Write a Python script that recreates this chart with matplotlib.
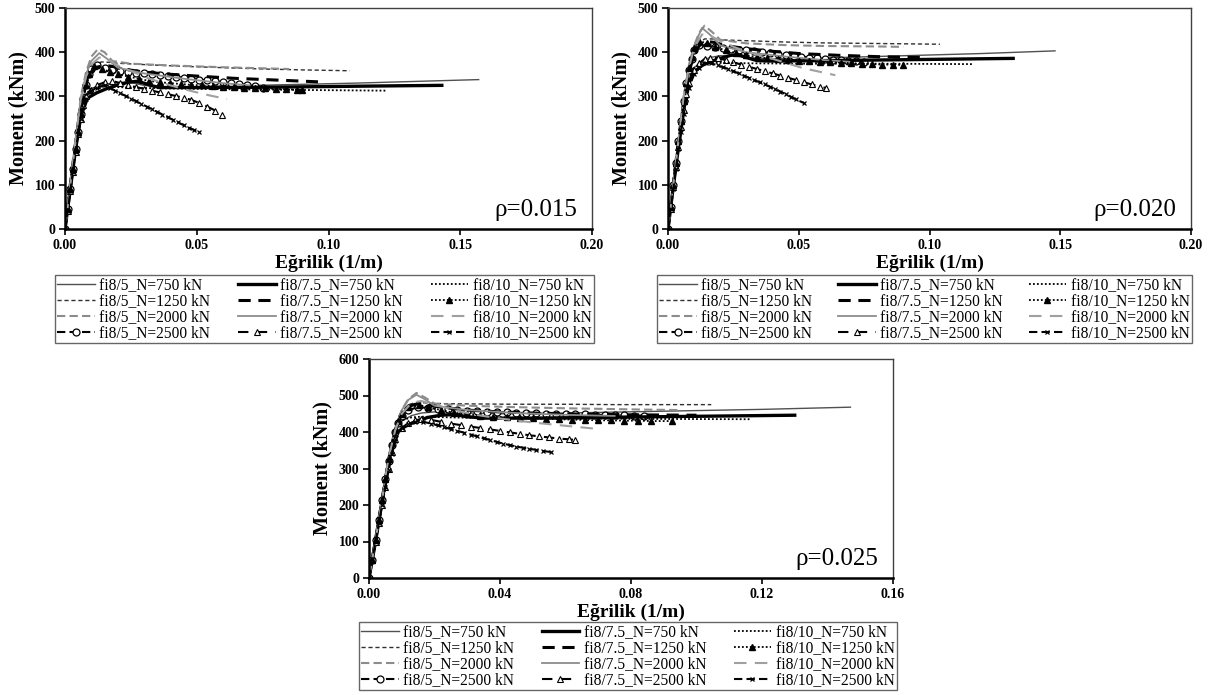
import matplotlib
matplotlib.use('Agg')
import matplotlib.pyplot as plt
from matplotlib.ticker import FormatStrFormatter

plt.rcParams['font.family'] = ['Liberation Serif', 'DejaVu Serif']

# series labels (legend is filled column by column: fi8/5, fi8/7.5, fi8/10)
labels = ['fi8/5_N=750 kN', 'fi8/5_N=1250 kN', 'fi8/5_N=2000 kN', 'fi8/5_N=2500 kN',
          'fi8/7.5_N=750 kN', 'fi8/7.5_N=1250 kN', 'fi8/7.5_N=2000 kN', 'fi8/7.5_N=2500 kN',
          'fi8/10_N=750 kN', 'fi8/10_N=1250 kN', 'fi8/10_N=2000 kN', 'fi8/10_N=2500 kN']

# ---------- rho = 0.015 : curvature (1/m) and moment (kNm) ----------
x015 = [
    [0, .002, .004, .006, .008, .010, .014, .018, .022, .026, .030, .035, .050, .080, .110, .157],
    [0, .002, .004, .006, .008, .010, .012, .014, .017, .020, .030, .045, .060, .075, .090, .108],
    [0, .002, .004, .006, .008, .010, .0125, .015, .018, .025, .040, .060, .085],
    [0, .001, .002, .003, .004, .005, .006, .007, .008, .009, .010, .012, .015, .018, .021, .024, .027,
     .030, .033, .036, .039, .042, .045, .048, .051, .054, .057, .060, .063, .066, .069, .072, .075],
    [0, .002, .004, .006, .0085, .012, .016, .020, .024, .027, .030, .033, .036, .050, .080, .110, .143],
    [0, .002, .004, .006, .008, .010, .012, .015, .018, .022, .030, .040, .050, .064, .080, .096],
    [0, .002, .004, .006, .008, .010, .013, .016, .020, .030, .045, .060, .070],
    [0, .001, .002, .003, .004, .005, .006, .007, .008, .010, .012, .015, .018, .021, .024, .027, .030,
     .033, .036, .039, .042, .045, .048, .051, .054, .057, .0596],
    [0, .002, .004, .006, .008, .010, .013, .016, .020, .030, .050, .080, .122],
    [0, .001, .002, .003, .004, .005, .006, .007, .008, .009, .011, .014, .017, .020, .024, .028, .032,
     .036, .040, .044, .048, .052, .056, .060, .064, .068, .072, .076, .080, .084, .088, .090],
    [0, .002, .004, .006, .008, .010, .013, .016, .020, .026, .032, .040, .048, .055, .0615],
    [0, .001, .002, .003, .004, .005, .006, .007, .008, .010, .012, .015, .017, .019, .021, .023, .025,
     .027, .029, .031, .033, .035, .037, .039, .041, .043, .045, .047, .049, .051],
]
m015 = [
    [0, 95, 190, 270, 305, 318, 326, 330, 332, 330, 325, 322, 322, 326, 330, 338],
    [0, 100, 195, 285, 335, 362, 375, 378, 377, 375, 372, 368, 365, 362, 360, 358],
    [0, 100, 200, 300, 355, 390, 407, 400, 380, 374, 370, 366, 362],
    [0, 45, 90, 135, 180, 220, 260, 295, 325, 350, 362, 370, 365, 360, 358, 356, 354,
     352, 350, 348, 346, 344, 342, 340, 338, 336, 334, 332, 330, 328, 326, 323, 320],
    [0, 90, 180, 255, 296, 308, 318, 326, 332, 334, 330, 324, 320, 320, 321, 323, 325],
    [0, 100, 195, 280, 330, 355, 366, 370, 368, 362, 355, 350, 346, 341, 337, 333],
    [0, 100, 200, 295, 350, 380, 398, 385, 365, 352, 340, 330, 325],
    [0, 40, 85, 130, 175, 215, 250, 280, 300, 315, 325, 332, 335, 330, 325, 321, 317,
     313, 309, 305, 301, 297, 292, 285, 277, 268, 258],
    [0, 95, 190, 270, 305, 318, 322, 322, 321, 319, 317, 315, 313],
    [0, 45, 90, 135, 180, 220, 260, 295, 325, 350, 368, 362, 356, 350, 345, 340, 335,
     332, 330, 328, 326, 325, 323, 322, 321, 320, 319, 318, 317, 316, 315, 315],
    [0, 100, 200, 295, 345, 372, 388, 385, 370, 355, 340, 325, 312, 302, 294],
    [0, 40, 85, 130, 175, 215, 250, 275, 295, 312, 320, 325, 320, 313, 307, 301, 295,
     289, 283, 277, 271, 265, 259, 253, 247, 241, 235, 229, 224, 219],
]

# ---------- rho = 0.020 ----------
x020 = [
    [0, .002, .004, .006, .008, .010, .013, .016, .020, .025, .030, .040, .060, .090, .120, .148],
    [0, .002, .004, .006, .008, .010, .012, .014, .017, .020, .030, .045, .060, .075, .090, .104],
    [0, .002, .004, .006, .008, .010, .012, .014, .017, .020, .030, .045, .060, .080, .090],
    [0, .001, .002, .003, .004, .005, .006, .007, .008, .009, .010, .012, .015, .018, .021, .024, .027,
     .030, .033, .036, .039, .042, .045, .048, .051, .054, .057, .060, .063, .066, .069, .072, .075],
    [0, .002, .004, .006, .008, .010, .013, .016, .020, .024, .027, .030, .034, .040, .060, .090, .132],
    [0, .002, .004, .006, .008, .010, .012, .015, .018, .022, .030, .040, .050, .065, .080, .097],
    [0, .002, .004, .006, .008, .010, .013, .016, .020, .030, .045, .060, .070],
    [0, .001, .002, .003, .004, .005, .006, .007, .008, .010, .012, .014, .016, .019, .022, .025, .028,
     .031, .034, .037, .040, .043, .046, .049, .052, .055, .058, .0605],
    [0, .002, .004, .006, .008, .010, .013, .016, .020, .030, .050, .080, .117],
    [0, .001, .002, .003, .004, .005, .006, .007, .008, .009, .010, .012, .015, .018, .022, .026, .030,
     .034, .038, .042, .046, .050, .054, .058, .062, .066, .070, .074, .078, .082, .086, .090],
    [0, .002, .004, .006, .008, .010, .013, .016, .020, .026, .032, .040, .0516, .064],
    [0, .001, .002, .003, .004, .005, .006, .007, .008, .010, .012, .0145, .0165, .019, .021, .023, .025,
     .027, .029, .031, .033, .035, .037, .039, .041, .043, .045, .047, .049, .052],
]
m020 = [
    [0, 100, 195, 285, 340, 365, 380, 388, 392, 392, 388, 385, 387, 392, 397, 403],
    [0, 100, 200, 295, 360, 400, 422, 430, 430, 428, 426, 423, 421, 420, 419, 418],
    [0, 100, 200, 300, 370, 415, 445, 460, 445, 428, 420, 416, 414, 413, 412],
    [0, 50, 100, 150, 200, 245, 290, 330, 360, 385, 405, 416, 414, 412, 410, 408, 406,
     404, 402, 400, 398, 396, 394, 392, 390, 388, 386, 385, 383, 382, 380, 379, 378],
    [0, 95, 185, 270, 330, 355, 370, 378, 386, 393, 394, 388, 381, 380, 381, 383, 386],
    [0, 100, 200, 290, 355, 395, 415, 424, 422, 415, 408, 402, 397, 393, 390, 388],
    [0, 100, 200, 300, 370, 415, 455, 440, 415, 400, 390, 382, 378],
    [0, 45, 95, 140, 185, 230, 270, 305, 330, 360, 375, 385, 388, 387, 382, 377, 372,
     367, 362, 357, 352, 347, 342, 337, 332, 327, 322, 319],
    [0, 100, 195, 285, 340, 365, 374, 376, 376, 375, 374, 374, 373],
    [0, 50, 100, 150, 200, 245, 290, 330, 365, 390, 410, 425, 420, 412, 404, 398, 393,
     389, 386, 384, 382, 380, 379, 378, 377, 376, 375, 374, 373, 372, 372, 371],
    [0, 100, 200, 300, 365, 410, 440, 438, 425, 410, 398, 385, 364, 348],
    [0, 45, 90, 135, 180, 220, 260, 295, 320, 350, 365, 375, 375, 370, 366, 362, 357,
     352, 347, 342, 337, 332, 327, 322, 317, 311, 305, 299, 293, 285],
]

# ---------- rho = 0.025 ----------
x025 = [
    [0, .002, .004, .006, .008, .010, .013, .016, .020, .025, .030, .040, .060, .090, .120, .147],
    [0, .002, .004, .006, .008, .010, .012, .014, .017, .020, .030, .045, .060, .075, .090, .1045],
    [0, .002, .004, .006, .008, .010, .012, .0145, .017, .020, .030, .045, .060, .080, .095],
    [0, .001, .002, .003, .004, .005, .006, .007, .008, .009, .010, .012, .015, .018, .021, .024, .027,
     .030, .033, .036, .039, .042, .045, .048, .051, .054, .057, .060, .063, .066, .069, .072, .075,
     .078, .081, .084],
    [0, .002, .004, .006, .008, .011, .014, .018, .022, .026, .030, .035, .050, .080, .110, .130],
    [0, .002, .004, .006, .008, .010, .012, .015, .018, .022, .030, .040, .050, .065, .080, .100],
    [0, .002, .004, .006, .008, .010, .012, .0145, .017, .020, .030, .045, .060, .075],
    [0, .001, .002, .003, .004, .005, .006, .007, .008, .010, .012, .014, .016, .019, .022, .025, .028,
     .031, .034, .037, .040, .043, .046, .049, .052, .055, .058, .061, .063],
    [0, .002, .004, .006, .008, .010, .013, .016, .020, .030, .050, .080, .1165],
    [0, .001, .002, .003, .004, .005, .006, .007, .008, .009, .010, .012, .0153, .018, .022, .026, .030,
     .034, .038, .042, .046, .050, .054, .058, .062, .066, .070, .074, .078, .082, .086, .0925],
    [0, .002, .004, .006, .008, .010, .013, .016, .020, .026, .032, .040, .050, .060, .0703],
    [0, .001, .002, .003, .004, .005, .006, .007, .008, .010, .012, .014, .0165, .019, .021, .023, .025,
     .027, .029, .031, .033, .035, .037, .039, .041, .043, .045, .047, .049, .051, .053, .0557],
]
m025 = [
    [0, 105, 215, 330, 400, 430, 445, 452, 455, 455, 452, 450, 452, 457, 462, 468],
    [0, 105, 215, 330, 410, 455, 475, 480, 480, 478, 477, 476, 476, 475, 475, 475],
    [0, 105, 215, 330, 410, 460, 490, 507, 495, 478, 472, 468, 465, 462, 460],
    [0, 50, 105, 160, 215, 270, 320, 365, 400, 425, 445, 460, 468, 466, 464, 462, 460,
     458, 457, 456, 455, 454, 453, 452, 451, 450, 449, 449, 448, 448, 447, 447, 446,
     446, 445, 445],
    [0, 100, 210, 320, 395, 415, 428, 440, 446, 448, 442, 438, 438, 441, 444, 446],
    [0, 105, 215, 325, 405, 450, 470, 478, 475, 468, 460, 455, 452, 449, 447, 446],
    [0, 105, 215, 330, 410, 460, 488, 502, 490, 472, 460, 452, 447, 444],
    [0, 50, 100, 150, 200, 250, 300, 345, 380, 410, 425, 432, 435, 433, 428, 423, 419,
     415, 411, 407, 403, 399, 395, 391, 388, 385, 382, 380, 378],
    [0, 105, 215, 330, 405, 432, 440, 442, 441, 439, 437, 436, 435],
    [0, 50, 105, 160, 215, 270, 325, 370, 405, 430, 450, 468, 474, 468, 460, 453, 448,
     445, 442, 440, 438, 437, 436, 435, 434, 433, 432, 432, 431, 431, 430, 430],
    [0, 105, 215, 330, 405, 450, 480, 485, 475, 460, 448, 437, 426, 417, 408],
    [0, 50, 100, 150, 200, 250, 295, 340, 375, 410, 422, 428, 428, 423, 418, 413, 408,
     403, 398, 393, 388, 383, 378, 373, 368, 364, 360, 357, 354, 351, 348, 345],
]

panels = [
    (x015, m015, 'ρ=0.015', 0.20, 0.05, 500),
    (x020, m020, 'ρ=0.020', 0.20, 0.05, 500),
    (x025, m025, 'ρ=0.025', 0.16, 0.04, 600),
]

# line styles for the 12 series (same order as labels)
styles = [
    dict(color='#505050', lw=1.0, ls='-'),
    dict(color='#303030', lw=1.0, ls=(0, (3, 2))),
    dict(color='#8c8c8c', lw=1.5, ls=(0, (4, 2))),
    dict(color='black', lw=1.5, ls=(0, (4, 2)), marker='o', ms=5, mfc='white', mew=0.9),
    dict(color='black', lw=2.4, ls='-'),
    dict(color='black', lw=2.2, ls=(0, (4, 2.5))),
    dict(color='#8c8c8c', lw=1.3, ls='-'),
    dict(color='black', lw=1.5, ls=(0, (5, 4)), marker='^', ms=4.5, mfc='white', mew=0.8),
    dict(color='black', lw=1.3, ls=(0, (1, 1.2))),
    dict(color='black', lw=1.3, ls=(0, (1, 1.2)), marker='^', ms=4, mfc='black'),
    dict(color='#a0a0a0', lw=1.5, ls=(0, (6, 4))),
    dict(color='black', lw=1.5, ls=(0, (4, 2)), marker='x', ms=3.5, mew=0.9),
]

fig = plt.figure(figsize=(12.18, 6.95), dpi=100)
W, H = 1218, 695

# axes rectangles in pixels: left, top, right, bottom
ax_px = [(65, 8, 592, 229), (668, 8, 1191, 229), (369, 359, 893, 578)]
leg_px = [(55, 275, 594, 343), (657, 275, 1192, 343), (359, 622, 897, 690)]

for (xs, ms, rho, xmax, xstep, ymax), (l, t, r, b), (ll, lt, lr, lb) in zip(panels, ax_px, leg_px):
    ax = fig.add_axes([l / W, 1 - b / H, (r - l) / W, (b - t) / H])
    handles = []
    for xv, mv, st, lab in zip(xs, ms, styles, labels):
        h, = ax.plot(xv, mv, label=lab, **st)
        handles.append(h)

    ax.set_xlim(0, xmax)
    ax.set_ylim(0, ymax)
    nx = int(round(xmax / xstep))
    ax.set_xticks([i * xstep for i in range(nx + 1)])
    ax.set_yticks(range(0, ymax + 1, 100))
    ax.xaxis.set_major_formatter(FormatStrFormatter('%.2f'))
    ax.tick_params(direction='out', length=4, width=1.2, labelsize=10, pad=3)
    for lbl in ax.get_xticklabels() + ax.get_yticklabels():
        lbl.set_fontweight('bold')

    for side in ['left', 'bottom']:
        ax.spines[side].set_linewidth(1.8)
        ax.spines[side].set_color('black')
    for side in ['top', 'right']:
        ax.spines[side].set_linewidth(1.0)
        ax.spines[side].set_color('#404040')

    ax.set_xlabel('Eğrilik (1/m)', fontsize=14, fontweight='bold', labelpad=2)
    ax.set_ylabel('Moment (kNm)', fontsize=14.5, fontweight='bold', labelpad=4)
    ax.text(0.972, 0.035, rho, transform=ax.transAxes, ha='right', va='bottom', fontsize=18)

    ax.legend(handles=handles, ncol=3, loc='center', mode='expand',
              bbox_to_anchor=(ll / W, 1 - lb / H, (lr - ll) / W, (lb - lt) / H),
              bbox_transform=fig.transFigure, fontsize=11.2, frameon=True, fancybox=False,
              edgecolor='#404040', handlelength=2.4, handletextpad=0.3, labelspacing=0.0,
              borderpad=0.15, columnspacing=0.8, borderaxespad=0)
    ax.get_legend().get_frame().set_linewidth(1.0)

fig.savefig('out.png', dpi=100)
